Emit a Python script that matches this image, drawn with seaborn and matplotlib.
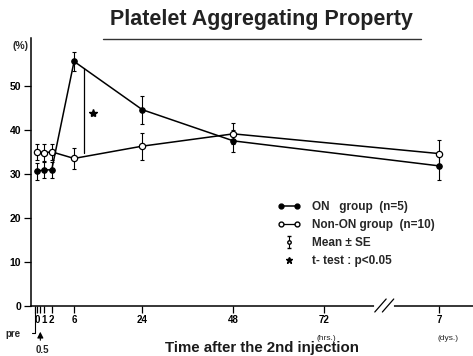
import numpy as np
import pandas as pd
import matplotlib
matplotlib.use("Agg")
import matplotlib.pyplot as plt
import matplotlib.transforms as mtransforms
from matplotlib.lines import Line2D
from matplotlib.legend_handler import HandlerLine2D, HandlerErrorbar
import seaborn as sns

# ---------------- data ----------------
time_points = ["0", "1", "2", "6", "24", "48", "7d"]
on_mean = [30.6, 30.9, 30.9, 55.6, 44.6, 37.5, 31.8]
on_se = [1.9, 1.9, 1.9, 2.2, 3.2, 2.5, 3.1]
non_mean = [35.0, 34.8, 35.0, 33.5, 36.3, 39.1, 34.6]
non_se = [1.8, 1.9, 1.9, 2.3, 3.1, 2.4, 3.2]
tick_keys = ["pre", "0", "0.5", "1", "2", "6", "24", "48", "72", "7d"]
tick_texts = ["", "0", "", "1", "2", "6", "24", "48", "72", "7"]
y_ticks = [0, 10, 20, 30, 40, 50]
sig_time = 8.6  # position of the significance bracket (hrs)

# ---------------- layout ----------------
# axis position of each time label: hour scale from 6 h on, early section expanded
xpos = {"pre": -4.3, "0": -3.7, "0.5": -2.9, "1": -1.85, "2": 0.1,
        "6": 6, "24": 24, "48": 48, "72": 72, "7d": 102.3}

df = pd.concat([
    pd.DataFrame({"group": "ON", "time": time_points, "mean": on_mean, "se": on_se}),
    pd.DataFrame({"group": "Non-ON", "time": time_points, "mean": non_mean, "se": non_se}),
])
df["pos"] = df["time"].map(xpos)

sns.set_theme(style="ticks")
plt.rcParams["font.family"] = ["Liberation Sans", "DejaVu Sans"]

W, H = 473, 356
fig = plt.figure(figsize=(W / 100, H / 100), dpi=100)
ax = fig.add_axes([31 / W, 50.5 / H, (W - 31) / W, 61 * 4.39 / H])

lw = 1.1
on = df[df.group == "ON"]
non = df[df.group == "Non-ON"]
sns.lineplot(data=non, x="pos", y="mean", ax=ax, color="black", lw=lw, marker="o",
             markersize=4.5, markerfacecolor="white", markeredgecolor="black",
             markeredgewidth=0.9, errorbar=None, zorder=3)
sns.lineplot(data=on, x="pos", y="mean", ax=ax, color="black", lw=lw, marker="o",
             markersize=4, markerfacecolor="black", markeredgecolor="black",
             errorbar=None, zorder=4)
for sub in (on, non):
    ax.errorbar(sub["pos"], sub["mean"], yerr=sub["se"], fmt="none", ecolor="black",
                elinewidth=0.8, capsize=1.5, capthick=0.8, zorder=2)

# significance bracket between the curves
on_at = np.interp(sig_time, on["pos"], on["mean"])
non_at = np.interp(sig_time, non["pos"], non["mean"])
ax.plot([sig_time, sig_time], [non_at + 0.8, on_at], color="black", lw=0.9)
ax.plot([sig_time + 2.4], [(on_at + non_at) / 2], marker="*", color="black",
        ms=6, ls="none")

ax.set_xlim(-5.36, 111.2)
ax.set_ylim(0, 61)
sns.despine(ax=ax, right=True, top=True)
for s in ("left", "bottom"):
    ax.spines[s].set_linewidth(1.1)
    ax.spines[s].set_color("black")

ax.set_xticks([xpos[k] for k in tick_keys])
ax.set_xticklabels(tick_texts)
ax.set_yticks(y_ticks)
ax.set_yticklabels([str(v) for v in y_ticks])
ax.tick_params(axis="x", direction="out", length=5, width=0.9, pad=2,
               labelsize=7, colors="black")
ax.tick_params(axis="y", direction="out", length=5, width=0.9, pad=2,
               labelsize=7.5, colors="black")
for t in ax.get_xticklabels() + ax.get_yticklabels():
    t.set_fontweight("bold")
ax.set_xlabel("")
ax.set_ylabel("")

# axis break mark
bt = mtransforms.blended_transform_factory(ax.transData, fig.transFigure)
def fy(p):
    return (H - p) / H
ax.plot([85.6, 89.8], [fy(305.5), fy(305.5)], color="white", lw=3, transform=bt,
        clip_on=False, zorder=5)
for dx in (0.0, 2.0):
    ax.plot([85.3 + dx, 88.3 + dx], [fy(312), fy(299)], color="black", lw=0.9,
            transform=bt, clip_on=False, zorder=6)

# labels
fig.text(261 / W, fy(19), "Platelet Aggregating Property", ha="center", va="center",
         fontsize=15.5, fontweight="bold", color="#222222")
fig.add_artist(Line2D([103 / W, 421 / W], [fy(39), fy(39)], color="#333333", lw=1.0))
fig.text(12 / W, fy(46), "(%)", ha="left", va="center", fontsize=7.5, fontweight="bold")
fig.text(262 / W, fy(348), "Time after the 2nd injection", ha="center", va="center",
         fontsize=10.8, fontweight="bold", color="#1a1a1a")
ax.text(72.5, fy(338), "(hrs.)", transform=bt, ha="center", va="center", fontsize=6)
ax.text(xpos["7d"] + 2.2, fy(338), "(dys.)", transform=bt, ha="center", va="center",
        fontsize=6)

# "pre" and "0.5" tick annotations
ax.plot([xpos["pre"], xpos["pre"], -5.2], [fy(312), fy(333), fy(333)], color="black",
        lw=0.8, transform=bt, clip_on=False)
fig.text(5 / W, fy(334), "pre", ha="left", va="center", fontsize=7, fontweight="bold")
ax.annotate("", xy=(xpos["0.5"], fy(329)), xytext=(xpos["0.5"], fy(343)),
            xycoords=bt, textcoords=bt,
            arrowprops=dict(arrowstyle="-|>,head_width=0.15,head_length=0.3",
                            color="black", lw=0.8))
fig.text(42 / W, fy(350), "0.5", ha="center", va="center", fontsize=7, fontweight="bold")

# legend
h_on = Line2D([], [], color="black", lw=lw, marker="o", ms=3.5, mfc="black")
h_non = Line2D([], [], color="black", lw=0.9, marker="o", ms=3.5, mfc="white", mec="black")
h_eb = ax.errorbar([np.nan], [np.nan], yerr=[1], fmt="o", ms=2.5, mfc="white",
                   mec="black", ecolor="black", elinewidth=0.8, capsize=1.5)
h_star = Line2D([], [], ls="none", marker="*", ms=5, color="black")
leg = ax.legend([h_on, h_non, h_eb, h_star],
                ["ON   group  (n=5)", "Non-ON group  (n=10)", "Mean \u00b1 SE",
                 "t- test : p<0.05"],
                handler_map={h_eb: HandlerErrorbar(numpoints=1),
                             h_star: HandlerLine2D(numpoints=1)},
                numpoints=2, frameon=False, fontsize=8.5, loc="upper left",
                bbox_to_anchor=(277 / W, fy(201)), bbox_transform=fig.transFigure,
                handlelength=2.0, handletextpad=1.0, labelspacing=0.5,
                borderpad=0, borderaxespad=0)
for t in leg.get_texts():
    t.set_fontweight("bold")

fig.savefig("out.png", dpi=100)
